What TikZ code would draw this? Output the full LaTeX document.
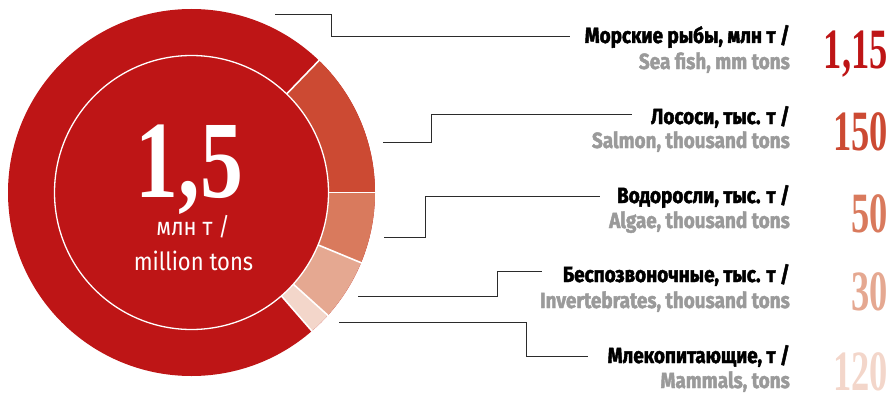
\documentclass[tikz,border=0pt]{standalone}
\usepackage{fontspec}
\newfontfamily\labfont[FakeStretch=0.88]{Fira Sans}
\newfontfamily\heavyfont[FakeStretch=0.86,FakeBold=2]{Fira Sans}
\newfontfamily\numfont[FakeStretch=0.64]{Liberation Serif}
\newfontfamily\bignumfont[FakeStretch=0.78]{Liberation Serif}
\definecolor{seared}{HTML}{BE1516}
\definecolor{salmonc}{HTML}{CC4A33}
\definecolor{algaec}{HTML}{D97A5D}
\definecolor{invc}{HTML}{E5A891}
\definecolor{mamc}{HTML}{F3D6CA}
\definecolor{subgray}{HTML}{9A9A9A}
\definecolor{leadc}{HTML}{2B2B2B}
\tikzset{
  lab/.style={inner sep=0pt, anchor=base east, font=\heavyfont\bfseries\fontsize{22}{24}\selectfont, text=black},
  sub/.style={inner sep=0pt, anchor=base east, font=\heavyfont\bfseries\fontsize{22}{24}\selectfont, text=subgray},
  num/.style={inner sep=0pt, anchor=base east, font=\numfont\bfseries\fontsize{57}{60}\selectfont},
  leader/.style={draw=leadc, line width=1pt},
  sep/.style={draw=white, line width=1.6pt}
}
\begin{document}
\begin{tikzpicture}[x=1pt,y=1pt]
\useasboundingbox (0,0) rectangle (893,392);
\coordinate (C) at (191.5,199.5);
\fill[seared] (C) circle[radius=183.5];
\begin{scope}[shift={(191.5,199.5)}]
  \fill[salmonc] (0:137) -- (0:183.5) arc[start angle=0,end angle=46,radius=183.5] -- (46:137) arc[start angle=46,end angle=0,radius=137] -- cycle;
  \fill[algaec] (-22.5:137) -- (-22.5:183.5) arc[start angle=-22.5,end angle=0,radius=183.5] -- (0:137) arc[start angle=0,end angle=-22.5,radius=137] -- cycle;
  \fill[invc] (-42:137) -- (-42:183.5) arc[start angle=-42,end angle=-22.5,radius=183.5] -- (-22.5:137) arc[start angle=-22.5,end angle=-42,radius=137] -- cycle;
  \fill[mamc] (-49:137) -- (-49:183.5) arc[start angle=-49,end angle=-42,radius=183.5] -- (-42:137) arc[start angle=-42,end angle=-49,radius=137] -- cycle;
  \foreach \a in {46,0,-22.5,-42,-49} \draw[sep] (\a:137) -- (\a:185);
  \draw[white, line width=1.3pt] (0,0) circle[radius=137];
\end{scope}
% centre text
\node[inner sep=0pt, anchor=base, text=white, font=\bignumfont\bfseries\fontsize{110}{110}\selectfont] (big) at (189.5,195) {1,5};
\node[inner sep=0pt, anchor=base, text=white, font=\labfont\fontsize{25}{28}\selectfont] (unit1) at (193,157) {млн т /};
\node[inner sep=0pt, anchor=base, text=white, font=\labfont\fontsize{25}{28}\selectfont] (unit2) at (193.5,122) {million tons};
% labels
\node[lab] (t1a) at (790,349) {Морские рыбы, млн т /};
\node[sub] (t1b) at (790,323) {Sea fish, mm tons};
\node[lab] (t2a) at (790,268) {Лососи, тыс. т /};
\node[sub] (t2b) at (790,244) {Salmon, thousand tons};
\node[lab] (t3a) at (790,189) {Водоросли, тыс. т /};
\node[sub] (t3b) at (790,164) {Algae, thousand tons};
\node[lab] (t4a) at (790,110) {Беспозвоночные, тыс. т /};
\node[sub] (t4b) at (790,84) {Invertebrates, thousand tons};
\node[lab] (t5a) at (790,29) {Млекопитающие, т /};
\node[sub] (t5b) at (790,4) {Mammals, tons};
% values
\node[num, text=seared] (v1) at (888,324) {1,15};
\node[num, text=salmonc] (v2) at (888,242) {150};
\node[num, text=algaec] (v3) at (888,160) {50};
\node[num, text=invc] (v4) at (888,82) {30};
\node[num, text=mamc] (v5) at (888,2) {120};
% leaders
\coordinate (l1a) at (275,377); \coordinate (l1b) at (331,377); \coordinate (l1c) at (570,356);
\coordinate (l2a) at (383,250); \coordinate (l2b) at (431,250); \coordinate (l2c) at (632,278);
\coordinate (l3a) at (384,155); \coordinate (l3b) at (425,155); \coordinate (l3c) at (600,196);
\coordinate (l4a) at (358,96);  \coordinate (l4b) at (497,96);  \coordinate (l4c) at (542,121);
\coordinate (l5a) at (339,70);  \coordinate (l5b) at (526,70);  \coordinate (l5c) at (588,36);
\draw[leader] (l1a) -- (l1b) |- (l1c);
\draw[leader] (l2a) -- (l2b) |- (l2c);
\draw[leader] (l3a) -- (l3b) |- (l3c);
\draw[leader] (l4a) -- (l4b) |- (l4c);
\draw[leader] (l5a) -- (l5b) |- (l5c);
\end{tikzpicture}
\end{document}
